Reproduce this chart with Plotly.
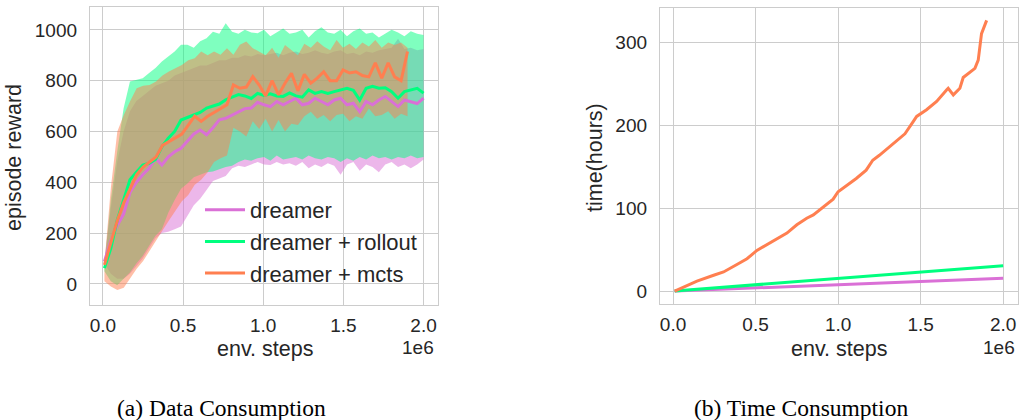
import numpy as np
import plotly.graph_objects as go

# ---------------- data ----------------
# env steps (in units of 1e6)
steps = np.linspace(0.01, 2.0, 51)
steps_mcts = np.linspace(0.01, 1.9, 48)

dreamer_mean = [88, 170, 230, 275, 360, 400, 430, 455, 495, 468, 500, 520, 534, 560, 590, 606, 587, 615, 646, 652,
                665, 678, 690, 692, 715, 705, 698, 718, 705, 718, 731, 705, 711, 731, 718, 705, 724, 731, 705, 711,
                678, 718, 705, 724, 738, 718, 698, 724, 718, 710, 731]
dreamer_low = [80, 40, 20, 20, 40, 70, 100, 140, 180, 200, 205, 215, 226, 270, 310, 335, 370, 405, 415, 425,
               455, 465, 460, 470, 480, 470, 468, 480, 470, 475, 465, 480, 455, 470, 460, 475, 465, 430, 470, 480,
               445, 470, 460, 440, 470, 480, 460, 470, 455, 470, 490]
dreamer_high = [95, 300, 480, 600, 680, 720, 740, 760, 780, 790, 800, 820, 830, 840, 850, 860, 860, 870, 880, 880,
                890, 890, 900, 895, 905, 900, 905, 910, 900, 910, 915, 905, 910, 920, 910, 905, 915, 920, 905, 910,
                900, 915, 910, 920, 925, 930, 965, 925, 930, 920, 925]

rollout_mean = [62, 140, 250, 330, 410, 440, 468, 475, 490, 540, 573, 600, 645, 655, 665, 675, 692, 700, 708, 725,
                735, 745, 740, 730, 750, 742, 748, 740, 738, 752, 740, 735, 764, 750, 757, 750, 757, 764, 770, 762,
                724, 770, 778, 770, 772, 757, 731, 757, 764, 770, 751]
rollout_low = [50, 10, -5, 20, 45, 80, 110, 150, 190, 215, 280, 330, 375, 395, 420, 430, 440, 442, 450, 460,
               465, 480, 490, 485, 495, 500, 485, 505, 490, 495, 500, 490, 505, 495, 490, 500, 495, 480, 495, 485,
               500, 490, 505, 495, 500, 490, 500, 495, 505, 495, 500]
rollout_high = [75, 330, 520, 690, 797, 805, 810, 830, 850, 875, 895, 915, 941, 941, 930, 955, 967, 993, 985, 1026,
                993, 985, 1000, 990, 987, 1000, 975, 990, 1005, 985, 990, 1000, 970, 995, 1010, 990, 985, 1000, 975, 995,
                1005, 985, 990, 970, 985, 1000, 990, 975, 995, 985, 980]

mcts_mean = [75, 160, 250, 320, 375, 430, 460, 480, 500, 545, 560, 575, 590, 625, 660, 640, 660, 675, 690, 705,
             783, 770, 775, 816, 783, 740, 800, 744, 790, 829, 760, 825, 790, 810, 835, 800, 800, 842, 830, 835,
             820, 815, 870, 810, 870, 815, 800, 915]
mcts_low = [10, -10, -24, -15, 20, 60, 90, 130, 170, 210, 250, 290, 325, 350, 390, 410, 440, 480, 495, 505,
            615, 600, 580, 640, 610, 650, 600, 645, 600, 630, 626, 660, 678, 650, 665, 640, 665, 670, 640, 660,
            650, 690, 660, 665, 680, 650, 670, 660]
mcts_high = [80, 380, 600, 665, 720, 770, 780, 783, 797, 820, 836, 850, 862, 880, 888, 915, 900, 915, 902, 928,
             902, 941, 954, 928, 915, 900, 930, 890, 940, 920, 900, 945, 930, 955, 935, 920, 960, 930, 945, 925,
             950, 935, 960, 930, 950, 940, 950, 930]

# time consumption (hours)
time_steps_mcts = [0.01, 0.044, 0.145, 0.246, 0.306, 0.387, 0.448, 0.508, 0.569, 0.649, 0.69, 0.75, 0.81, 0.85,
                   0.91, 0.97, 1.0, 1.05, 1.11, 1.17, 1.21, 1.25, 1.31, 1.375, 1.405, 1.456, 1.476, 1.536, 1.597,
                   1.657, 1.667, 1.698, 1.738, 1.758, 1.798, 1.829, 1.849, 1.869, 1.9]
time_mcts = [0, 3.2, 12, 19, 23, 32, 39, 49, 56, 66, 70, 80, 88, 92, 102, 111, 120, 127, 136, 146, 158, 164, 174,
             184, 190, 205, 211, 219, 229, 243, 245, 237, 245, 258, 264, 269, 279, 311, 327]
time_steps_lin = [0.01, 0.5, 1.0, 1.5, 2.0]
time_rollout = [0, 7.6, 15.3, 23.0, 30.6]
time_dreamer = [0, 3.8, 7.6, 11.5, 15.3]

x_ticks = [0.0, 0.5, 1.0, 1.5, 2.0]
x_tick_text = ["0.0", "0.5", "1.0", "1.5", "2.0"]
reward_ticks = [0, 200, 400, 600, 800, 1000]
time_ticks = [0, 100, 200, 300]

names = ["dreamer", "dreamer + rollout", "dreamer + mcts"]
colors = ["#DA70D6", "#00FF7F", "#FF7F50"]
fills = ["rgba(218,112,214,0.5)", "rgba(0,255,127,0.5)", "rgba(255,127,80,0.5)"]

# ---------------- figure ----------------
W, H = 1020, 420
fig = go.Figure()

series = [
    (steps, dreamer_mean, dreamer_low, dreamer_high),
    (steps, rollout_mean, rollout_low, rollout_high),
    (steps_mcts, mcts_mean, mcts_low, mcts_high),
]

for (xs, m, lo, hi), fc in zip(series, fills):
    xs = list(xs)
    fig.add_trace(go.Scatter(
        x=xs + xs[::-1], y=list(hi) + list(lo)[::-1],
        fill="toself", fillcolor=fc, line=dict(width=0), mode="lines",
        hoverinfo="skip", showlegend=False, xaxis="x", yaxis="y"))

for (xs, m, lo, hi), c, n in zip(series, colors, names):
    fig.add_trace(go.Scatter(
        x=list(xs), y=m, mode="lines", line=dict(color=c, width=3),
        name=n, showlegend=True, xaxis="x", yaxis="y"))

for xs, ys, c in [(time_steps_lin, time_dreamer, colors[0]),
                  (time_steps_lin, time_rollout, colors[1]),
                  (time_steps_mcts, time_mcts, colors[2])]:
    fig.add_trace(go.Scatter(
        x=xs, y=ys, mode="lines", line=dict(color=c, width=3),
        showlegend=False, xaxis="x2", yaxis="y2"))

FONT = "Liberation Sans, Arial, sans-serif"
tick_font = dict(family=FONT, size=19, color="#262626")
label_font = dict(family=FONT, size=21.5, color="#262626")
grid = "#cccccc"

def px_x(p):
    return p / W

def px_y(p):
    return 1 - p / H

axis_common = dict(showgrid=True, gridcolor=grid, gridwidth=1, showline=True, linecolor=grid,
                   linewidth=1.3, mirror=True, ticks="", zeroline=False, tickfont=tick_font,
                   automargin=False)

fig.update_layout(
    width=W, height=H, margin=dict(l=0, r=0, t=0, b=0, autoexpand=False),
    paper_bgcolor="white", plot_bgcolor="white",
    xaxis=dict(domain=[px_x(90), px_x(438)], range=[-0.08, 2.09], anchor="y",
               tickvals=x_ticks, ticktext=x_tick_text, ticklabelstandoff=3, **axis_common),
    yaxis=dict(domain=[px_y(305), px_y(7)], range=[-83, 1090], anchor="x",
               tickvals=reward_ticks, ticklabelstandoff=8, **axis_common),
    xaxis2=dict(domain=[px_x(660), px_x(1018)], range=[-0.079, 2.09], anchor="y2",
                tickvals=x_ticks, ticktext=x_tick_text, ticklabelstandoff=3, **axis_common),
    yaxis2=dict(domain=[px_y(304), px_y(8)], range=[-15.7, 342], anchor="x2",
                tickvals=time_ticks, ticklabelstandoff=8, **axis_common),
    legend=dict(x=px_x(200), y=px_y(189), xanchor="left", yanchor="top",
                bgcolor="rgba(0,0,0,0)", borderwidth=0,
                font=dict(family=FONT, size=22, color="#262626"),
                tracegroupgap=0, itemwidth=40),
    showlegend=True,
    hovermode=False,
)

ann = [
    dict(text="episode reward", x=px_x(14), y=px_y(158), textangle=-90, font=label_font),
    dict(text="time(hours)", x=px_x(595), y=px_y(158), textangle=-90, font=label_font),
    dict(text="env. steps", x=px_x(265), y=px_y(349), font=label_font),
    dict(text="env. steps", x=px_x(839), y=px_y(349), font=label_font),
    dict(text="1e6", x=px_x(436), y=px_y(347), xanchor="right", font=tick_font),
    dict(text="1e6", x=px_x(1017), y=px_y(347), xanchor="right", font=tick_font),
    dict(text="(a) Data Consumption", x=px_x(221), y=px_y(408),
         font=dict(family="Liberation Serif, Times New Roman, serif", size=23.5, color="black")),
    dict(text="(b) Time Consumption", x=px_x(801), y=px_y(408),
         font=dict(family="Liberation Serif, Times New Roman, serif", size=23.5, color="black")),
]
for a in ann:
    a.setdefault("xanchor", "center")
    fig.add_annotation(xref="paper", yref="paper", showarrow=False, yanchor="middle", **a)

fig.write_html("out.html", config={"displayModeBar": False},
               post_script="document.body.style.margin='0';document.body.style.overflow='hidden';")
